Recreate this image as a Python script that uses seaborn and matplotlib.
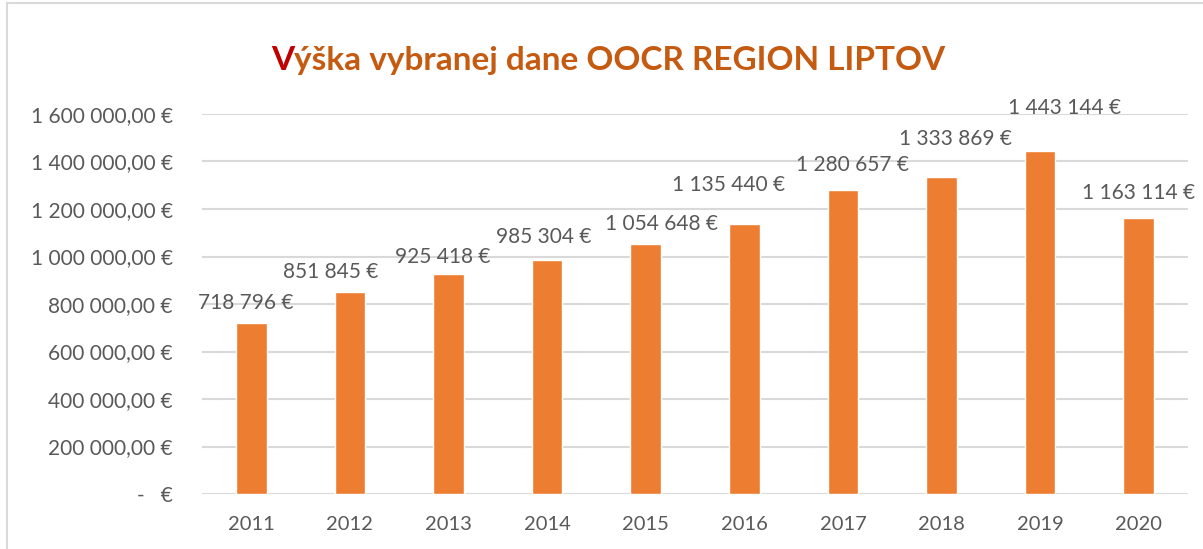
import matplotlib
matplotlib.use("Agg")
import matplotlib.pyplot as plt
import seaborn as sns
import pandas as pd
from matplotlib.patches import Rectangle

years = ["2011", "2012", "2013", "2014", "2015", "2016", "2017", "2018", "2019", "2020"]
values = [718796, 851845, 925418, 985304, 1054648, 1135440, 1280657, 1333869, 1443144, 1163114]
# manual label placement (pixels relative to bar top centre), as in the source chart
label_dx_px = [-6, -19, -6, -3, 16, -16, 10, 14, 24, 0]
label_dy_px = [20, 20, 17, 23, 20, 39, 25, 38, 43, 25]
title_first = "V"
title_rest = "ýška vybranej dane OOCR REGION LIPTOV"

sns.set_theme(style="white")
plt.rcParams["font.family"] = ["Lato", "DejaVu Sans"]

TEXT = "#595959"
GRID = "#D9D9D9"
BAR = "#ED7D31"

fig = plt.figure(figsize=(12.03, 5.49), dpi=100)
ax = fig.add_axes([202/1203, 55/549, 986/1203, 380/549])

df = pd.DataFrame({"year": years, "value": values})
sns.barplot(data=df, x="year", y="value", color=BAR, width=0.31, saturation=1, ax=ax)

ax.set_xlim(-0.5, 9.5)
ax.set_ylim(0, 1600000)
ticks = list(range(0, 1600001, 200000))
ax.set_yticks(ticks)

def fmt(v):
    if v == 0:
        return "-   €"
    return f"{v:,.2f}".replace(",", " ").replace(".", ",") + " €"

ax.set_yticklabels([fmt(t) for t in ticks])
ax.set_xlabel("")
ax.set_ylabel("")
for s in ax.spines.values():
    s.set_visible(False)
ax.grid(axis="y", color=GRID, linewidth=1.5)
ax.set_axisbelow(True)
ax.tick_params(axis="y", length=0, pad=21, labelsize=15, labelcolor=TEXT)
ax.tick_params(axis="x", length=0, pad=16, labelsize=14.5, labelcolor=TEXT)

for i, (v, dx, dy) in enumerate(zip(values, label_dx_px, label_dy_px)):
    lab = f"{v:,}".replace(",", " ") + " €"
    ax.annotate(lab, xy=(i, v), xytext=(dx, dy), textcoords="offset pixels",
                ha="center", va="center", fontsize=15, color=TEXT)

# chart frame
fig.patches.append(Rectangle((7/1203, -0.05), 1.2, 1 - 3/549 + 0.05, transform=fig.transFigure,
                             fill=False, edgecolor=GRID, linewidth=1.5))

# two-colour title, centred as a whole
ty = 1 - 70/549
tkw = dict(fontsize=24, fontweight="bold", va="baseline")
fig.canvas.draw()
r = fig.canvas.get_renderer()
tmp = fig.text(0, ty, title_first + title_rest, ha="left", **tkw)
full_w = tmp.get_window_extent(r).width
tmp.remove()
start_px = 608 - full_w / 2
t1 = fig.text(start_px / 1203, ty, title_first, ha="left", color="#C00000", **tkw)
w1 = t1.get_window_extent(r).width
fig.text((start_px + w1) / 1203, ty, title_rest, ha="left", color="#C55A11", **tkw)

fig.savefig("out.png", dpi=100)
